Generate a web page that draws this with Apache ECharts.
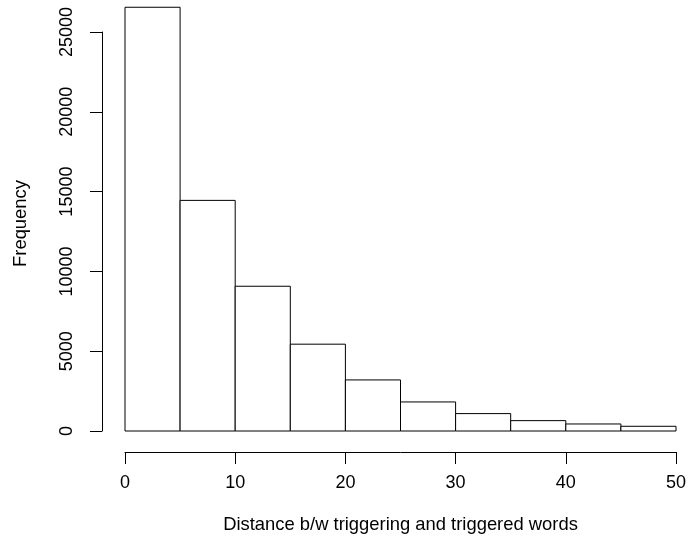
<!DOCTYPE html>
<html>
<head>
<meta charset="utf-8">
<script src="https://cdn.jsdelivr.net/npm/echarts@6/dist/echarts.min.js"></script>
<style>
  html, body { margin: 0; padding: 0; background: #fff; }
  #chart { width: 689px; height: 546px; }
</style>
</head>
<body>
<div id="chart"></div>
<script>
// histogram bins (distance) and counts
const binStarts = [0, 5, 10, 15, 20, 25, 30, 35, 40, 45]
const binEnds = [5, 10, 15, 20, 25, 30, 35, 40, 45, 50]
const counts = [26550, 14450, 9070, 5440, 3200, 1820, 1090, 650, 440, 295]
const xTicks = [0, 10, 20, 30, 40, 50]
const yTicks = [0, 5000, 10000, 15000, 20000, 25000]

const font = 'Liberation Sans, Arial, Helvetica, sans-serif'
const chart = echarts.init(document.getElementById('chart'))

chart.setOption({
  animation: false,
  backgroundColor: '#fff',
  grid: {
    left: 125, right: 13, top: 32, bottom: 115,
    containLabel: false,
    outerBoundsMode: 'none',
  },
  xAxis: {
    type: 'value',
    min: xTicks[0],
    max: xTicks[xTicks.length - 1],
    interval: 10,
    offset: 21,
    name: 'Distance b/w triggering and triggered words',
    nameLocation: 'middle',
    nameGap: 64,
    nameTextStyle: { color: '#000', fontSize: 18.4, fontFamily: font },
    splitLine: { show: false },
    axisLine: { show: true, onZero: false, lineStyle: { color: '#000', width: 1 } },
    axisTick: { show: true, length: 12, lineStyle: { color: '#000' } },
    axisLabel: {
      color: '#000', fontSize: 18, fontFamily: font, margin: 22,
      formatter: (v) => String(v),
    },
  },
  yAxis: {
    type: 'value',
    min: yTicks[0],
    max: yTicks[yTicks.length - 1],
    interval: 5000,
    offset: 23,
    name: 'Frequency',
    nameLocation: 'middle',
    nameGap: 72,
    nameTextStyle: {
      color: '#000', fontSize: 18.4, fontFamily: font,
      // nudge the centred label a little up, as in the reference
      padding: [0, 0, 0, 16],
    },
    splitLine: { show: false },
    axisLine: { show: true, onZero: false, lineStyle: { color: '#000', width: 1 } },
    axisTick: { show: true, length: 12, lineStyle: { color: '#000' } },
    axisLabel: {
      color: '#000', fontSize: 18, fontFamily: font, margin: 26, rotate: 90,
      formatter: (v) => String(v),
    },
  },
  series: [
    {
      type: 'custom',
      clip: false,
      data: counts.map((c, i) => [binStarts[i], binEnds[i], c]),
      encode: { x: [0, 1], y: 2 },
      renderItem: (params, api) => {
        const p0 = api.coord([api.value(0), 0])
        const p1 = api.coord([api.value(1), api.value(2)])
        return {
          type: 'rect',
          shape: { x: p0[0], y: p1[1], width: p1[0] - p0[0], height: p0[1] - p1[1] },
          style: { fill: '#fff', stroke: '#000', lineWidth: 1 },
        }
      },
    },
  ],
})
</script>
</body>
</html>
